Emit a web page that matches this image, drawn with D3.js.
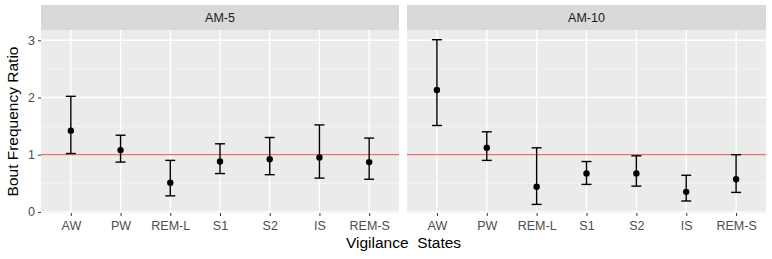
<!DOCTYPE html>
<html>
<head>
<meta charset="utf-8">
<script src="https://cdn.jsdelivr.net/npm/d3@7"></script>
<style>
  body { margin: 0; background: #fff; }
  text { font-family: 'Liberation Sans', Arial, sans-serif; }
</style>
</head>
<body>
<div id="chart"></div>
<script>
const states = ['AW', 'PW', 'REM-L', 'S1', 'S2', 'IS', 'REM-S']
const panels = ['AM-5', 'AM-10']
const yTicks = [0, 1, 2, 3]

// ratio, lower, upper per state
const am5Mean = [1.42, 1.08, 0.51, 0.88, 0.92, 0.95, 0.87]
const am5Low = [1.02, 0.87, 0.28, 0.67, 0.65, 0.59, 0.57]
const am5High = [2.02, 1.34, 0.90, 1.19, 1.30, 1.52, 1.29]

const am10Mean = [2.13, 1.12, 0.44, 0.67, 0.67, 0.35, 0.57]
const am10Low = [1.51, 0.90, 0.13, 0.48, 0.45, 0.19, 0.34]
const am10High = [3.01, 1.40, 1.12, 0.88, 0.98, 0.64, 1.00]

const series = [
  { panel: panels[0], mean: am5Mean, low: am5Low, high: am5High },
  { panel: panels[1], mean: am10Mean, low: am10Low, high: am10High }
]

const W = 772
const H = 259
const plotTop = 30
const plotBottom = 213
const stripTop = 5
const panelX = [[41, 399], [407, 766]]

const svg = d3.select('#chart').append('svg')
  .attr('width', W).attr('height', H)

const y = d3.scaleLinear().domain([-0.02, 3.18]).range([plotBottom, plotTop])

series.forEach((s, i) => {
  const [x0, x1] = panelX[i]
  const x = d3.scalePoint().domain(states).range([x0, x1]).padding(0.6)
  const g = svg.append('g')

  // strip
  g.append('rect')
    .attr('x', x0).attr('y', stripTop)
    .attr('width', x1 - x0).attr('height', plotTop - stripTop)
    .attr('fill', '#d9d9d9')
  g.append('text')
    .attr('x', (x0 + x1) / 2).attr('y', (stripTop + plotTop) / 2 + 4.5)
    .attr('text-anchor', 'middle').attr('font-size', 12.5).attr('fill', '#1a1a1a')
    .text(s.panel)

  // panel background
  g.append('rect')
    .attr('x', x0).attr('y', plotTop)
    .attr('width', x1 - x0).attr('height', plotBottom - plotTop)
    .attr('fill', '#ebebeb')

  // minor grid
  g.selectAll('.minor')
    .data([0.5, 1.5, 2.5])
    .enter().append('line')
    .attr('x1', x0).attr('x2', x1)
    .attr('y1', d => y(d)).attr('y2', d => y(d))
    .attr('stroke', '#f5f5f5').attr('stroke-width', 0.8)

  // major grid
  g.selectAll('.major')
    .data(yTicks)
    .enter().append('line')
    .attr('x1', x0).attr('x2', x1)
    .attr('y1', d => y(d)).attr('y2', d => y(d))
    .attr('stroke', '#fff').attr('stroke-width', 1.4)
  g.selectAll('.vgrid')
    .data(states)
    .enter().append('line')
    .attr('x1', d => x(d)).attr('x2', d => x(d))
    .attr('y1', plotTop).attr('y2', plotBottom)
    .attr('stroke', '#fff').attr('stroke-width', 1.4)

  // reference line
  g.append('line')
    .attr('x1', x0).attr('x2', x1)
    .attr('y1', y(1)).attr('y2', y(1))
    .attr('stroke', '#e8736c').attr('stroke-width', 1.2)

  // x axis
  const xAxis = d3.axisBottom(x).tickSize(3).tickPadding(5)
  const ax = g.append('g')
    .attr('transform', 'translate(0,' + plotBottom + ')')
    .call(xAxis)
  ax.select('.domain').remove()
  ax.selectAll('line').attr('stroke', '#333')
  ax.selectAll('text').attr('font-size', 12.5).attr('fill', '#4d4d4d')
    .attr('font-family', "'Liberation Sans', Arial, sans-serif")

  // error bars
  const cap = 5
  states.forEach((st, k) => {
    const cx = x(st)
    g.append('line')
      .attr('x1', cx).attr('x2', cx)
      .attr('y1', y(s.low[k])).attr('y2', y(s.high[k]))
      .attr('stroke', '#000').attr('stroke-width', 1.4)
    g.append('line')
      .attr('x1', cx - cap).attr('x2', cx + cap)
      .attr('y1', y(s.low[k])).attr('y2', y(s.low[k]))
      .attr('stroke', '#000').attr('stroke-width', 1.4)
    g.append('line')
      .attr('x1', cx - cap).attr('x2', cx + cap)
      .attr('y1', y(s.high[k])).attr('y2', y(s.high[k]))
      .attr('stroke', '#000').attr('stroke-width', 1.4)
  })
  g.selectAll('circle')
    .data(s.mean)
    .enter().append('circle')
    .attr('cx', (d, k) => x(states[k]))
    .attr('cy', d => y(d))
    .attr('r', 3.2)
    .attr('fill', '#000')
})

// y axis on left panel
const yAxis = d3.axisLeft(y).tickValues(yTicks).tickFormat(d3.format('d')).tickSize(3).tickPadding(3)
const ay = svg.append('g')
  .attr('transform', 'translate(' + panelX[0][0] + ',0)')
  .call(yAxis)
ay.select('.domain').remove()
ay.selectAll('line').attr('stroke', '#333')
ay.selectAll('text').attr('font-size', 12.5).attr('fill', '#4d4d4d')
  .attr('font-family', "'Liberation Sans', Arial, sans-serif")

svg.append('text')
  .attr('transform', 'translate(18,' + (plotTop + plotBottom) / 2 + ') rotate(-90)')
  .attr('text-anchor', 'middle').attr('font-size', 15.5).attr('fill', '#000')
  .text('Bout Frequency Ratio')

svg.append('text')
  .attr('x', (panelX[0][0] + panelX[1][1]) / 2).attr('y', 248)
  .attr('text-anchor', 'middle').attr('font-size', 15.5).attr('fill', '#000')
  .style('white-space', 'pre')
  .text('Vigilance  States')
</script>
</body>
</html>
